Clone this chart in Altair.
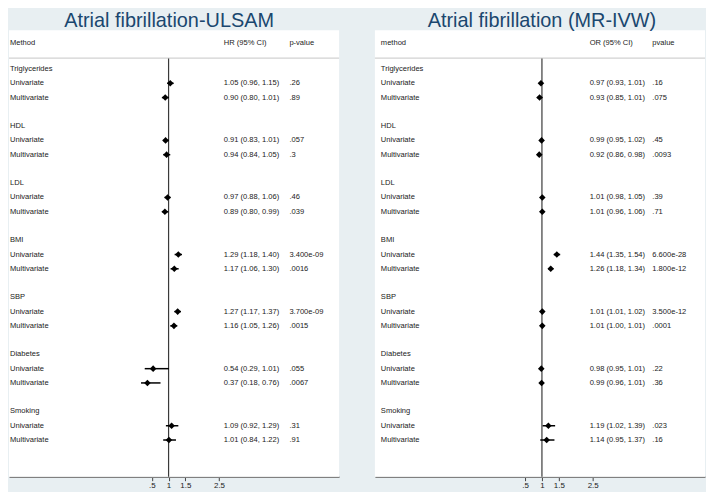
import altair as alt
import pandas as pd

# ---------------- data ----------------
groups = ["Triglycerides", "HDL", "LDL", "BMI", "SBP", "Diabetes", "Smoking"]
methods = ["Univariate", "Multivariate"]

ulsam_est = [1.05, 0.90, 0.91, 0.94, 0.97, 0.89, 1.29, 1.17, 1.27, 1.16, 0.54, 0.37, 1.09, 1.01]
ulsam_lo = [0.96, 0.80, 0.83, 0.84, 0.88, 0.80, 1.18, 1.06, 1.17, 1.05, 0.29, 0.18, 0.92, 0.84]
ulsam_hi = [1.15, 1.01, 1.01, 1.05, 1.06, 0.99, 1.40, 1.30, 1.37, 1.26, 1.01, 0.76, 1.29, 1.22]
ulsam_p = [".26", ".89", ".057", ".3", ".46", ".039", "3.400e-09", ".0016",
           "3.700e-09", ".0015", ".055", ".0067", ".31", ".91"]

mr_est = [0.97, 0.93, 0.99, 0.92, 1.01, 1.01, 1.44, 1.26, 1.01, 1.01, 0.98, 0.99, 1.19, 1.14]
mr_lo = [0.93, 0.85, 0.95, 0.86, 0.98, 0.96, 1.35, 1.18, 1.01, 1.00, 0.95, 0.96, 1.02, 0.95]
mr_hi = [1.01, 1.01, 1.02, 0.98, 1.05, 1.06, 1.54, 1.34, 1.02, 1.01, 1.01, 1.01, 1.39, 1.37]
mr_p = [".16", ".075", ".45", ".0093", ".39", ".71", "6.600e-28", "1.800e-12",
        "3.500e-12", ".0001", ".22", ".36", ".023", ".16"]

tick_values = [0.5, 1, 1.5, 2.5]
tick_labels = [".5", "1", "1.5", "2.5"]

ulsam_heads = ["Method", "HR (95% CI)", "p-value"]
mr_heads = ["method", "OR (95% CI)", "pvalue"]
titles = ["Atrial fibrillation-ULSAM", "Atrial fibrillation  (MR-IVW)"]

# ---------------- layout / style ----------------
FONT = "Liberation Sans"
BG = "#e8eff2"
TXT = "#222222"
PAGE_TOP = 8.0         # page y of the chart top
AXIS_PAGE = 477.0      # page y of the x axis line (view bottom)
H = int(AXIS_PAGE - PAGE_TOP)
PANEL_TOP = 28.0 - PAGE_TOP   # white panel top, in view px
TITLE_Y = 25.0 - PAGE_TOP     # title baseline, in view px
ROW0 = 67.0            # page y of first row
ROWH = 14.35           # row pitch
R_TOP = (PAGE_TOP - ROW0) / ROWH
R_BOT = (AXIS_PAGE - ROW0) / ROWH
HEAD_ROW = (41 - ROW0) / ROWH
SEP_ROW = (56 - ROW0) / ROWH
TXT_SIZE = 7.6

label_expr = " : ".join(f"datum.value == {v} ? '{l}'" for v, l in zip(tick_values, tick_labels)) + " : datum.label"


def rows_df(est, lo, hi, p):
    recs = []
    for gi, g in enumerate(groups):
        base = 4 * gi
        recs.append(dict(row=base, label=g, kind="group"))
        for mi, m in enumerate(methods):
            k = gi * 2 + mi
            recs.append(dict(row=base + 1 + mi, label=m, kind="est", est=est[k], lo=lo[k], hi=hi[k],
                             ci=f"{est[k]:.2f} ({lo[k]:.2f}, {hi[k]:.2f})", p=p[k]))
    return pd.DataFrame(recs)


def panel(title, est, lo, hi, p, heads, x_dom, width, cols, title_x):
    df = rows_df(est, lo, hi, p)
    one = pd.DataFrame({"t": [title]})
    head_df = pd.DataFrame({"row": [HEAD_ROW], "h0": [heads[0]], "h1": [heads[1]], "h2": [heads[2]]})

    ys = alt.Scale(domain=[R_TOP, R_BOT], reverse=True, nice=False, zero=False)
    xs = alt.Scale(domain=x_dom, nice=False, zero=False)
    xaxis = alt.Axis(values=tick_values, labelExpr=label_expr, grid=False, title=None,
                     domainColor="#808080", domainWidth=1.5, tickColor="#444444", tickSize=4,
                     tickWidth=1, labelFontSize=8, labelColor=TXT, labelFont=FONT,
                     labelPadding=1, labelFlush=False, labelOverlap=False)
    Y = alt.Y("row:Q", scale=ys, axis=None)

    base = alt.Chart(df)
    est_only = base.transform_filter("datum.kind == 'est'")

    panel_bg = alt.Chart(one).mark_rect(color="white").encode(
        x=alt.value(0), x2=alt.value(width), y=alt.value(PANEL_TOP), y2=alt.value(H))
    ttl = alt.Chart(one).mark_text(font=FONT, fontSize=20, color="#1a476f", align="center",
                                   baseline="alphabetic").encode(
        x=alt.value(title_x), y=alt.value(TITLE_Y), text="t:N")
    sep = alt.Chart(one).mark_rule(color="#c6c6c6", strokeWidth=1).encode(
        y=alt.Y(datum=SEP_ROW, scale=ys, axis=None), x=alt.value(0), x2=alt.value(width))
    vline = alt.Chart(one).mark_rule(color="#3a3a3a", strokeWidth=1.2).encode(
        x=alt.X(datum=1, scale=xs, axis=xaxis),
        y=alt.Y(datum=SEP_ROW, scale=ys, axis=None), y2=alt.value(H))
    ci = est_only.mark_rule(color="black", strokeWidth=1.5).encode(
        x=alt.X("lo:Q", scale=xs, axis=xaxis), x2="hi:Q", y=Y)
    pts = est_only.mark_point(shape="diamond", filled=True, size=44, color="black", opacity=1).encode(
        x=alt.X("est:Q", scale=xs, axis=xaxis), y=Y)

    tkw = dict(font=FONT, fontSize=TXT_SIZE, color=TXT, align="left", baseline="middle")
    lab = base.mark_text(**tkw).encode(x=alt.value(cols[0]), y=Y, text="label:N")
    cit = est_only.mark_text(**tkw).encode(x=alt.value(cols[1]), y=Y, text="ci:N")
    pt = est_only.mark_text(**tkw).encode(x=alt.value(cols[2]), y=Y, text="p:N")

    hb = alt.Chart(head_df)
    h0 = hb.mark_text(**tkw).encode(x=alt.value(cols[0]), y=Y, text="h0:N")
    h1 = hb.mark_text(**tkw).encode(x=alt.value(cols[1]), y=Y, text="h1:N")
    h2 = hb.mark_text(**tkw).encode(x=alt.value(cols[2]), y=Y, text="h2:N")

    return alt.layer(panel_bg, ttl, vline, sep, ci, pts, lab, cit, pt, h0, h1, h2).properties(
        width=width, height=H)


# left panel view: page x 8..340 ; value 1 -> 168.5 px, 33.8 px/unit
left_w = 332
l_x0 = 1 + (8 - 168.5) / 33.8
l_x1 = 1 + (340 - 168.5) / 33.8
# right panel view: page x 374..706 ; value 1 -> 542 px, 34 px/unit
right_w = 332
r_x0 = 1 + (374 - 542) / 34.0
r_x1 = 1 + (706 - 542) / 34.0

left = panel(titles[0], ulsam_est, ulsam_lo, ulsam_hi, ulsam_p, ulsam_heads,
             [l_x0, l_x1], left_w, [1, 216, 282], 161)
right = panel(titles[1], mr_est, mr_lo, mr_hi, mr_p, mr_heads,
              [r_x0, r_x1], right_w, [6, 216, 279], 168)

chart = alt.hconcat(left, right, spacing=34).properties(padding=0).configure(
    background=BG).configure_view(stroke="transparent")

chart.save("out.html", embed_options={"renderer": "svg", "actions": False})
